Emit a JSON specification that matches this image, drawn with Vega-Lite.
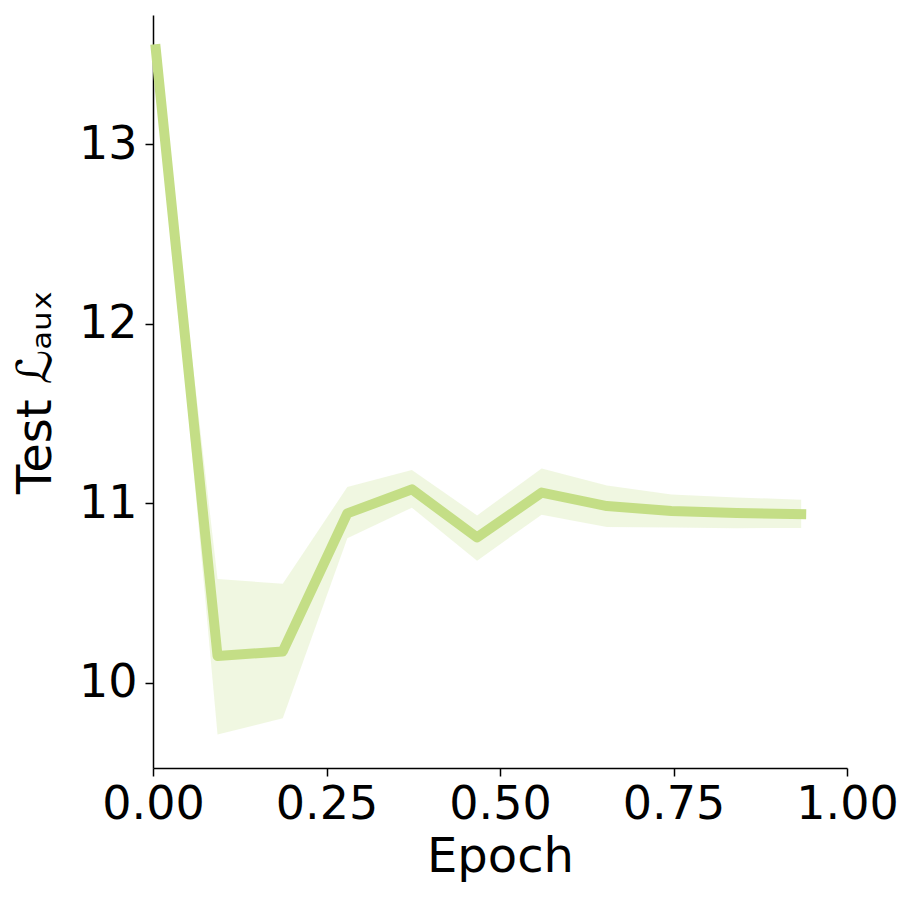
{
  "$schema": "https://vega.github.io/schema/vega-lite/v6.json",
  "width": 694,
  "height": 753,
  "autosize": {"type": "none"},
  "padding": {"left": 153, "top": 15, "right": 67, "bottom": 133},
  "background": "white",
  "config": {
    "view": {"stroke": null},
    "font": "DejaVu Sans",
    "axis": {
      "grid": false,
      "domainColor": "black",
      "domainWidth": 1.5,
      "tickColor": "black",
      "tickWidth": 1.5,
      "tickSize": 8,
      "labelColor": "black",
      "titleColor": "black",
      "labelFont": "DejaVu Sans",
      "titleFont": "DejaVu Sans",
      "labelFontSize": 46,
      "titleFontSize": 48,
      "titleFontWeight": "normal"
    }
  },
  "data": {
    "values": [
      {"epoch": 0.004, "mean": 13.53, "lo": 13.5, "hi": 13.56},
      {"epoch": 0.093, "mean": 10.15, "lo": 9.712, "hi": 10.578},
      {"epoch": 0.187, "mean": 10.175, "lo": 9.803, "hi": 10.552},
      {"epoch": 0.28, "mean": 10.944, "lo": 10.805, "hi": 11.091},
      {"epoch": 0.373, "mean": 11.078, "lo": 10.976, "hi": 11.186},
      {"epoch": 0.467, "mean": 10.81, "lo": 10.681, "hi": 10.933},
      {"epoch": 0.56, "mean": 11.06, "lo": 10.937, "hi": 11.194},
      {"epoch": 0.654, "mean": 10.985, "lo": 10.868, "hi": 11.1},
      {"epoch": 0.747, "mean": 10.957, "lo": 10.865, "hi": 11.05},
      {"epoch": 0.841, "mean": 10.946, "lo": 10.862, "hi": 11.033},
      {"epoch": 0.934, "mean": 10.94, "lo": 10.863, "hi": 11.02}
    ]
  },
  "encoding": {
    "x": {
      "field": "epoch",
      "type": "quantitative",
      "scale": {"domain": [0, 1], "nice": false, "zero": false},
      "axis": {
        "title": "Epoch",
        "values": [0, 0.25, 0.5, 0.75, 1],
        "format": ".2f",
        "labelPadding": 6,
        "titlePadding": 6,
        "labelFlush": false
      }
    }
  },
  "layer": [
    {
      "mark": {"type": "area", "color": "#c4de86", "opacity": 0.25},
      "encoding": {
        "y": {
          "field": "lo",
          "type": "quantitative",
          "scale": {"domain": [9.526, 13.72], "nice": false, "zero": false},
          "axis": {
            "title": "Test ℒₐᵤₓ",
            "values": [10, 11, 12, 13],
            "format": "d",
            "labelPadding": 8,
            "titlePadding": 18,
            "labelFlush": false
          }
        },
        "y2": {"field": "hi"}
      }
    },
    {
      "mark": {"type": "line", "color": "#c4de86", "strokeWidth": 10, "strokeCap": "square", "strokeJoin": "round"},
      "encoding": {
        "y": {"field": "mean", "type": "quantitative"}
      }
    }
  ]
}
